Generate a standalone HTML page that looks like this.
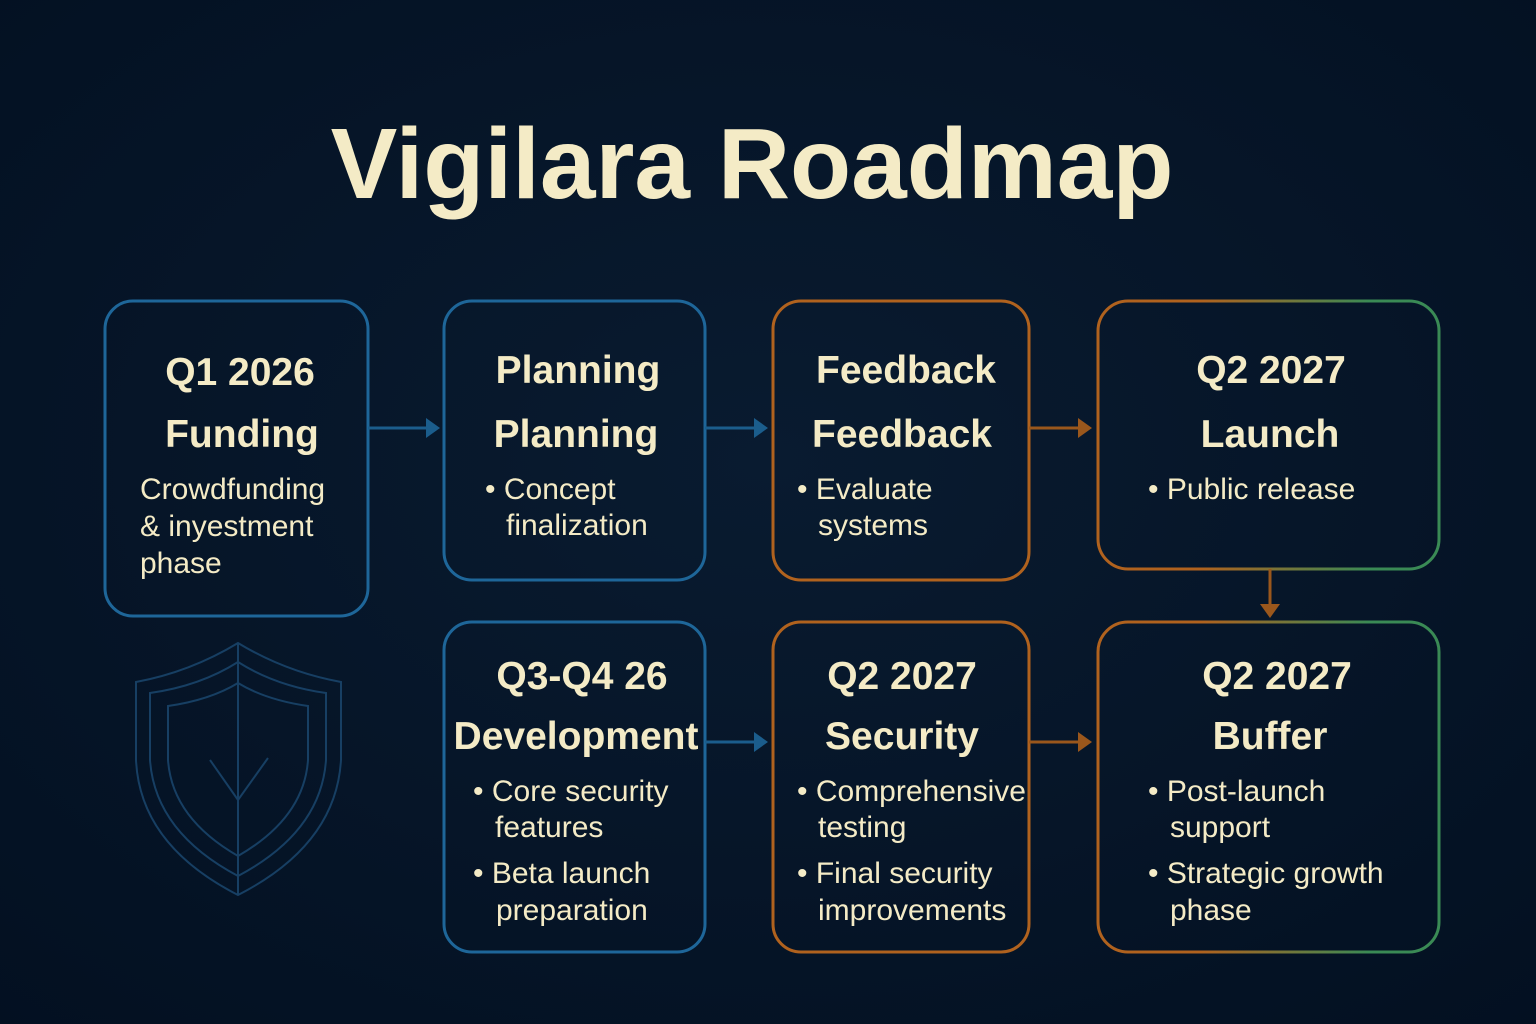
<!DOCTYPE html>
<html><head><meta charset="utf-8"><style>
html,body{margin:0;padding:0;background:#041426;}
svg{display:block}
text{font-family:"Liberation Sans",sans-serif;fill:#f4ebc6}
.h{font-weight:bold;font-size:39px;text-anchor:middle}
.b{font-size:30px}
</style></head><body>
<svg width="1536" height="1024" viewBox="0 0 1536 1024" xmlns="http://www.w3.org/2000/svg">
<defs>
<radialGradient id="bg" cx="50%" cy="45%" r="75%"><stop offset="0" stop-color="#091b30"/><stop offset="1" stop-color="#031021"/></radialGradient>
<linearGradient id="og" x1="0" y1="0" x2="1" y2="0"><stop offset="0.3" stop-color="#b0621e"/><stop offset="0.8" stop-color="#3a8a55"/></linearGradient>
</defs>
<rect width="1536" height="1024" fill="url(#bg)"/>
<text x="752" y="198" text-anchor="middle" style="font-weight:bold;font-size:100px">Vigilara Roadmap</text>

<g fill="none" stroke-width="3">
<rect x="105" y="301" width="263" height="315" rx="28" stroke="#1e6699"/>
<rect x="444" y="301" width="261" height="279" rx="28" stroke="#1e6699"/>
<rect x="773" y="301" width="256" height="279" rx="28" stroke="#b0621e"/>
<rect x="1098" y="301" width="341" height="268" rx="30" stroke="url(#og)"/>
<rect x="444" y="622" width="261" height="330" rx="28" stroke="#1e6699"/>
<rect x="773" y="622" width="256" height="330" rx="28" stroke="#b0621e"/>
<rect x="1098" y="622" width="341" height="330" rx="30" stroke="url(#og)"/>
</g>

<g stroke-width="3">
<line x1="368" y1="428" x2="428" y2="428" stroke="#1b5d8c"/><polygon points="426,418 440,428 426,438" fill="#1b5d8c"/>
<line x1="705" y1="428" x2="756" y2="428" stroke="#1b5d8c"/><polygon points="754,418 768,428 754,438" fill="#1b5d8c"/>
<line x1="1029" y1="428" x2="1080" y2="428" stroke="#9a571c"/><polygon points="1078,418 1092,428 1078,438" fill="#9a571c"/>
<line x1="1270" y1="569" x2="1270" y2="606" stroke="#9a571c"/><polygon points="1260,604 1280,604 1270,618" fill="#9a571c"/>
<line x1="705" y1="742" x2="756" y2="742" stroke="#1b5d8c"/><polygon points="754,732 768,742 754,752" fill="#1b5d8c"/>
<line x1="1029" y1="742" x2="1080" y2="742" stroke="#9a571c"/><polygon points="1078,732 1092,742 1078,752" fill="#9a571c"/>
</g>

<g fill="none" stroke="#173f63" stroke-width="2">
<path d="M238,643 Q190,672 136,682 L136,760 Q140,845 238,895 Q336,845 341,760 L341,682 Q286,672 238,643 Z"/>
<path d="M238,662 Q200,686 150,693 L150,760 Q155,832 238,876 Q321,832 326,760 L326,693 Q276,686 238,662 Z"/>
<path d="M238,683 Q210,700 168,706 L168,760 Q172,818 238,856 Q304,818 308,760 L308,706 Q266,700 238,683 Z"/>
<line x1="238" y1="643" x2="238" y2="895"/>
<path d="M210,760 L238,800 L268,758"/>
</g>

<text class="h" x="240" y="385">Q1 2026</text>
<text class="h" x="242" y="447">Funding</text>
<text class="b" x="140" y="499">Crowdfunding</text>
<text class="b" x="140" y="536">&amp; inyestment</text>
<text class="b" x="140" y="573">phase</text>

<text class="h" x="578" y="383">Planning</text>
<text class="h" x="576" y="447">Planning</text>
<text class="b" x="485" y="499">• Concept</text>
<text class="b" x="506" y="535">finalization</text>

<text class="h" x="906" y="383">Feedback</text>
<text class="h" x="902" y="447">Feedback</text>
<text class="b" x="797" y="499">• Evaluate</text>
<text class="b" x="818" y="535">systems</text>

<text class="h" x="1271" y="383">Q2 2027</text>
<text class="h" x="1270" y="447">Launch</text>
<text class="b" x="1148" y="499">• Public release</text>

<text class="h" x="582" y="689">Q3-Q4 26</text>
<text class="h" x="576" y="749">Development</text>
<text class="b" x="473" y="801">• Core security</text>
<text class="b" x="495" y="837">features</text>
<text class="b" x="473" y="883">• Beta launch</text>
<text class="b" x="496" y="920">preparation</text>

<text class="h" x="902" y="689">Q2 2027</text>
<text class="h" x="902" y="749">Security</text>
<text class="b" x="797" y="801">• Comprehensive</text>
<text class="b" x="818" y="837">testing</text>
<text class="b" x="797" y="883">• Final security</text>
<text class="b" x="818" y="920">improvements</text>

<text class="h" x="1277" y="689">Q2 2027</text>
<text class="h" x="1270" y="749">Buffer</text>
<text class="b" x="1148" y="801">• Post-launch</text>
<text class="b" x="1170" y="837">support</text>
<text class="b" x="1148" y="883">• Strategic growth</text>
<text class="b" x="1170" y="920">phase</text>
</svg>
</body></html>
